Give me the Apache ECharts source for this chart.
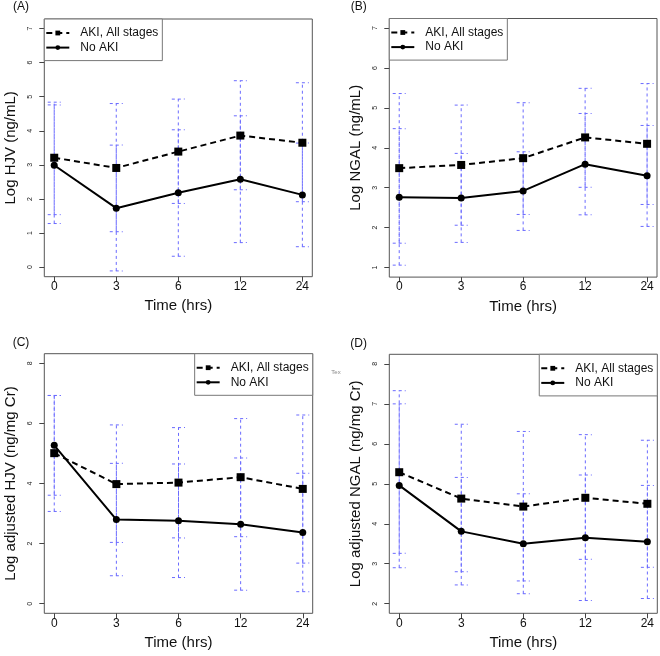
<!DOCTYPE html>
<html>
<head>
<meta charset="utf-8">
<script src="https://cdn.jsdelivr.net/npm/echarts@6/dist/echarts.min.js"></script>
<style>html,body{margin:0;padding:0;background:#fff;}#main{width:660px;height:656px;}</style>
</head>
<body>
<div id="main"></div>
<script>
const categories = ['0', '3', '6', '12', '24'];
const seriesNames = ['AKI, All stages', 'No AKI'];

// Panel A: Log HJV (ng/mL)
const hjvAki = [3.21, 2.91, 3.39, 3.86, 3.65];
const hjvAkiLow = [1.54, 1.04, 1.87, 2.27, 1.92];
const hjvAkiHigh = [4.84, 4.80, 4.93, 5.47, 5.41];
const hjvNo = [2.99, 1.73, 2.18, 2.58, 2.12];
const hjvNoLow = [1.28, -0.11, 0.32, 0.72, 0.60];
const hjvNoHigh = [4.76, 3.58, 4.03, 4.44, 3.64];

// Panel B: Log NGAL (ng/mL)
const ngalAki = [3.49, 3.57, 3.74, 4.26, 4.10];
const ngalAkiLow = [1.61, 2.06, 2.33, 3.01, 2.58];
const ngalAkiHigh = [5.36, 5.07, 5.13, 5.49, 5.61];
const ngalNo = [2.76, 2.74, 2.92, 3.59, 3.30];
const ngalNoLow = [1.06, 1.63, 1.93, 2.32, 2.03];
const ngalNoHigh = [4.48, 3.86, 3.90, 4.86, 4.56];

// Panel C: Log adjusted HJV (ng/mg Cr)
const adjHjvAki = [5.01, 3.98, 4.03, 4.21, 3.82];
const adjHjvAkiLow = [3.07, 2.04, 2.19, 2.23, 1.35];
const adjHjvAkiHigh = [6.93, 5.95, 5.86, 6.16, 6.28];
const adjHjvNo = [5.27, 2.80, 2.76, 2.64, 2.37];
const adjHjvNoLow = [3.61, 0.93, 0.87, 0.45, 0.40];
const adjHjvNoHigh = [6.93, 4.67, 4.65, 4.85, 4.34];

// Panel D: Log adjusted NGAL (ng/mg Cr)
const adjNgalAki = [5.29, 4.63, 4.43, 4.65, 4.50];
const adjNgalAkiLow = [3.26, 2.80, 2.57, 3.11, 2.91];
const adjNgalAkiHigh = [7.33, 6.49, 6.31, 6.23, 6.09];
const adjNgalNo = [4.96, 3.81, 3.50, 3.65, 3.55];
const adjNgalNoLow = [2.90, 2.47, 2.25, 2.08, 2.13];
const adjNgalNoHigh = [7.00, 5.16, 4.75, 5.22, 4.96];

// Tick labels
const ticksA = [0, 1, 2, 3, 4, 5, 6, 7];
const ticksB = [1, 2, 3, 4, 5, 6, 7];
const ticksC = [0, 2, 4, 6, 8];
const ticksD = [2, 3, 4, 5, 6, 7, 8];

const FONT = '"Liberation Sans", Arial, Helvetica, sans-serif';
const BAR_COLOR = '#6b6bff';

const panels = [
  { label: '(A)', ytitle: 'Log HJV (ng/mL)', ticks: ticksA,
    grid: { left: 44.3, top: 19, width: 268, height: 257.7 },
    aki: hjvAki, akiLow: hjvAkiLow, akiHigh: hjvAkiHigh,
    no: hjvNo, noLow: hjvNoLow, noHigh: hjvNoHigh,
    legend: { left: 44.3, top: 19 }, labelPos: [21, 7] },
  { label: '(B)', ytitle: 'Log NGAL (ng/mL)', ticks: ticksB,
    grid: { left: 389.3, top: 18.5, width: 267.7, height: 258.6 },
    aki: ngalAki, akiLow: ngalAkiLow, akiHigh: ngalAkiHigh,
    no: ngalNo, noLow: ngalNoLow, noHigh: ngalNoHigh,
    legend: { left: 389.3, top: 18.5 }, labelPos: [358.7, 7] },
  { label: '(C)', ytitle: 'Log adjusted HJV (ng/mg Cr)', ticks: ticksC,
    grid: { left: 44.3, top: 353.7, width: 268.4, height: 259.6 },
    aki: adjHjvAki, akiLow: adjHjvAkiLow, akiHigh: adjHjvAkiHigh,
    no: adjHjvNo, noLow: adjHjvNoLow, noHigh: adjHjvNoHigh,
    legend: { right: 660 - 312.7, top: 353.7 }, labelPos: [21, 342.7] },
  { label: '(D)', ytitle: 'Log adjusted NGAL (ng/mg Cr)', ticks: ticksD,
    grid: { left: 389.3, top: 354.3, width: 268, height: 259 },
    aki: adjNgalAki, akiLow: adjNgalAkiLow, akiHigh: adjNgalAkiHigh,
    no: adjNgalNo, noLow: adjNgalNoLow, noHigh: adjNgalNoHigh,
    legend: { right: 660 - 657.3, top: 354.3 }, labelPos: [358.7, 343.3] }
];

function errorBarRender(params, api) {
  const x = api.value(0);
  const lo = api.coord([x, api.value(1)]);
  const hi = api.coord([x, api.value(2)]);
  const cap = 6.5;
  const style = { stroke: BAR_COLOR, lineWidth: 1, lineDash: [3, 3], fill: null };
  return {
    type: 'group',
    children: [
      { type: 'line', shape: { x1: lo[0], y1: lo[1], x2: hi[0], y2: hi[1] }, style: style },
      { type: 'line', shape: { x1: lo[0] - cap, y1: lo[1], x2: lo[0] + cap, y2: lo[1] }, style: style },
      { type: 'line', shape: { x1: hi[0] - cap, y1: hi[1], x2: hi[0] + cap, y2: hi[1] }, style: style }
    ]
  };
}

const grids = [], xAxes = [], yAxes = [], series = [], legends = [], graphics = [];

panels.forEach((p, i) => {
  const lo = p.ticks[0], hi = p.ticks[p.ticks.length - 1];
  const ext = (hi - lo) * 0.04;
  grids.push(Object.assign({ show: true, borderColor: '#555', borderWidth: 1, backgroundColor: 'transparent' }, p.grid));
  xAxes.push({
    gridIndex: i, type: 'value', min: -0.16, max: 4.16,
    splitLine: { show: false }, axisLine: { show: false, onZero: false },
    axisTick: { show: true, inside: false, length: 5, lineStyle: { color: '#444' }, customValues: [0, 1, 2, 3, 4] },
    axisLabel: { show: true, customValues: [0, 1, 2, 3, 4], formatter: v => categories[Math.round(v)],
      fontSize: 12, color: '#111', fontFamily: FONT, margin: 4 },
    name: 'Time (hrs)', nameLocation: 'middle', nameGap: 22,
    nameTextStyle: { fontSize: 15, color: '#111', fontFamily: FONT }
  });
  yAxes.push({
    gridIndex: i, type: 'value', min: lo - ext, max: hi + ext,
    splitLine: { show: false }, axisLine: { show: false, onZero: false },
    axisTick: { show: true, inside: false, length: 5, lineStyle: { color: '#444' }, customValues: p.ticks },
    axisLabel: { show: true, customValues: p.ticks, rotate: 90, fontSize: 7, color: '#222', fontFamily: FONT, margin: 11 },
    name: p.ytitle, nameLocation: 'middle', nameGap: 26, nameRotate: 90,
    nameTextStyle: { fontSize: 15, color: '#111', fontFamily: FONT }
  });
  const mk = arr => arr.map((v, k) => [k, v]);
  const mkBar = (l, h) => l.map((v, k) => [k, v, h[k]]);
  series.push({
    type: 'custom', name: 'errAki' + i, xAxisIndex: i, yAxisIndex: i, z: 1,
    renderItem: errorBarRender, data: mkBar(p.akiLow, p.akiHigh), silent: true
  });
  series.push({
    type: 'custom', name: 'errNo' + i, xAxisIndex: i, yAxisIndex: i, z: 1,
    renderItem: errorBarRender, data: mkBar(p.noLow, p.noHigh), silent: true
  });
  series.push({
    type: 'line', name: seriesNames[0], xAxisIndex: i, yAxisIndex: i, z: 3,
    data: mk(p.aki), symbol: 'rect', symbolSize: 8, showSymbol: true,
    lineStyle: { color: '#000', width: 2, type: [6, 4] },
    itemStyle: { color: '#000', borderColor: '#000', borderWidth: 0 },
    animation: false
  });
  series.push({
    type: 'line', name: seriesNames[1], xAxisIndex: i, yAxisIndex: i, z: 3,
    data: mk(p.no), symbol: 'circle', symbolSize: 7, showSymbol: true,
    lineStyle: { color: '#000', width: 2, type: 'solid' },
    itemStyle: { color: '#000', borderColor: '#000', borderWidth: 0 },
    animation: false
  });
  legends.push(Object.assign({
    orient: 'vertical', data: seriesNames, selectedMode: false,
    backgroundColor: '#fff', borderColor: '#777', borderWidth: 1, borderRadius: 0,
    padding: [8, 4, 7, 1], itemGap: 2.6, itemWidth: 23, itemHeight: 6,
    textStyle: { fontSize: 12, lineHeight: 12, color: '#111', fontFamily: FONT, padding: [0, 0, 0, 6] }
  }, p.legend));
  graphics.push({
    type: 'text', x: p.labelPos[0], y: p.labelPos[1],
    style: { text: p.label, fontSize: 12, fill: '#111', fontFamily: FONT, align: 'center', verticalAlign: 'middle' }
  });
});

graphics.push({
  type: 'text', x: 336, y: 372,
  style: { text: 'Tex', fontSize: 6, fill: '#888', fontFamily: FONT, align: 'center', verticalAlign: 'middle' }
});

const chart = echarts.init(document.getElementById('main'), null, { renderer: 'canvas' });
chart.setOption({
  backgroundColor: '#fff',
  animation: false,
  grid: grids, xAxis: xAxes, yAxis: yAxes,
  legend: legends, series: series, graphic: graphics
});
</script>
</body>
</html>
